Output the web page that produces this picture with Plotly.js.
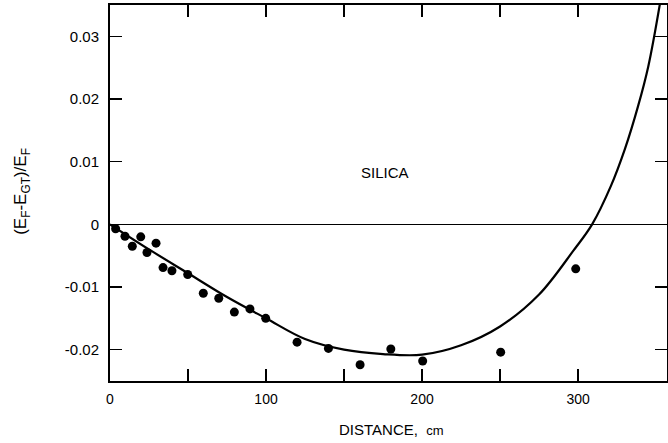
<!DOCTYPE html>
<html>
<head>
<meta charset="utf-8">
<script src="https://cdn.plot.ly/plotly-3.0.1.min.js"></script>
<style>html,body{margin:0;padding:0;background:#fff;}</style>
</head>
<body>
<div id="chart" style="width:668px;height:443px;"></div>
<script>
// measured points
const pointX = [3.6, 9.6, 14.3, 19.7, 23.7, 29.5, 34, 39.7, 49.8, 59.8, 69.7, 79.7, 89.7, 99.8, 119.9, 140, 160.3, 180, 200.4, 250.4, 298.5, 338];
const pointY = [-0.0007, -0.0019, -0.0035, -0.0020, -0.0045, -0.0030, -0.0069, -0.0074, -0.0080, -0.0110, -0.0118, -0.0140, -0.0135, -0.0150, -0.0188, -0.0198, -0.0224, -0.0199, -0.0218, -0.0204, -0.0071, 0.0352];
// fitted curve
const curveX = [0, 25, 50, 75, 100, 125, 150, 175, 200, 225, 250, 275, 297, 309, 321, 330, 338.5, 345, 352.4];
const curveY = [0, -0.0040, -0.0078, -0.0116, -0.0150, -0.0183, -0.0200, -0.0207, -0.0208, -0.0193, -0.0163, -0.0112, -0.0042, 0, 0.0061, 0.0120, 0.0189, 0.0252, 0.0351];
// ticks
const xTickVals = [0, 50, 100, 150, 200, 250, 300];
const xTickText = ['0', '', '100', '', '200', '', '300'];
const yTickVals = [-0.02, -0.01, 0, 0.01, 0.02, 0.03];
const yTickText = ['-0.02', '-0.01', '0', '0.01', '0.02', '0.03'];

const FAM = 'Liberation Sans, Arial, sans-serif';

const traces = [
  {x: curveX, y: curveY, mode: 'lines', line: {shape: 'spline', smoothing: 1, color: '#000', width: 2.2}, cliponaxis: true, hoverinfo: 'skip'},
  {x: pointX, y: pointY, mode: 'markers', marker: {size: 9, color: '#000'}, cliponaxis: false}
];

const axisCommon = {
  showgrid: false, showline: true, linecolor: '#000', linewidth: 2, mirror: 'ticks',
  ticks: 'inside', ticklen: 12, tickwidth: 1.5, tickcolor: '#000', tickmode: 'array'
};

const layout = {
  width: 668, height: 443,
  margin: {l: 110, r: 1, t: 5, b: 62},
  paper_bgcolor: '#fff', plot_bgcolor: '#fff',
  showlegend: false,
  font: {family: FAM, size: 14, color: '#000'},
  xaxis: Object.assign({}, axisCommon, {
    range: [0, 357], tickvals: xTickVals, ticktext: xTickText, zeroline: false,
    ticklabelstandoff: 4, tickfont: {family: FAM, size: 14, color: '#000'}
  }),
  yaxis: Object.assign({}, axisCommon, {
    range: [-0.025, 0.035], tickvals: yTickVals, ticktext: yTickText,
    zeroline: true, zerolinecolor: '#000', zerolinewidth: 1.5,
    ticklabelstandoff: 6, tickfont: {family: FAM, size: 15, color: '#000'}
  }),
  annotations: [
    {x: 176, y: 0.0083, xref: 'x', yref: 'y', text: 'SILICA', showarrow: false, font: {family: FAM, size: 15, color: '#000'}},
    {x: 0, y: 0.503, xref: 'paper', yref: 'paper', xanchor: 'center', yanchor: 'middle', xshift: -88, textangle: -90,
     text: '(E<sub>F</sub>-E<sub>GT</sub>)/E<sub>F</sub>', showarrow: false, font: {family: FAM, size: 17, color: '#000'}},
    {x: 0.506, y: 0, xref: 'paper', yref: 'paper', xanchor: 'center', yanchor: 'middle', yshift: -48,
     text: 'DISTANCE,  <span style="font-size:13px">cm</span>', showarrow: false, font: {family: FAM, size: 15, color: '#000'}}
  ]
};

Plotly.newPlot('chart', traces, layout, {displayModeBar: false, staticPlot: true});
</script>
</body>
</html>
